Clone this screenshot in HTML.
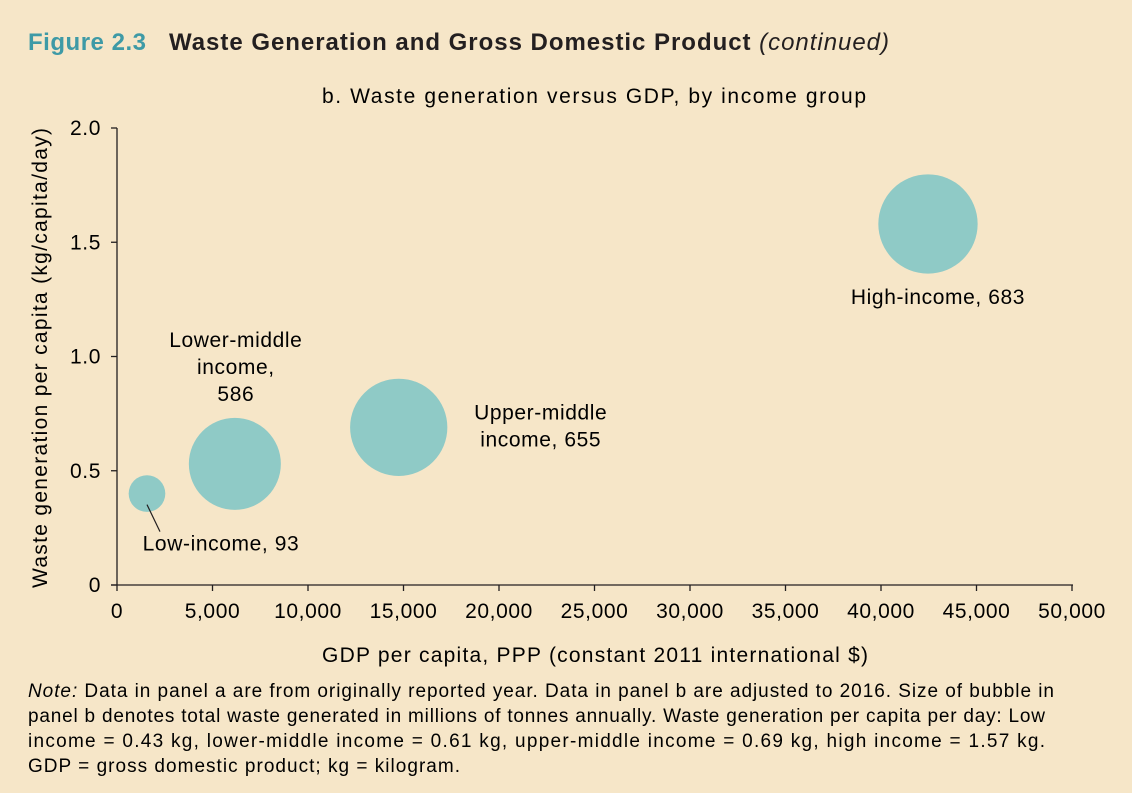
<!DOCTYPE html>
<html><head><meta charset="utf-8"><style>
body{margin:0;width:1132px;height:793px;background:#f6e6c8;overflow:hidden;font-family:"Liberation Sans",sans-serif;color:#231f20}
svg{position:absolute;left:0;top:0}
</style></head><body>
<svg width="1132" height="793" font-family="Liberation Sans, sans-serif">
<text x="28" y="50" font-size="24" font-weight="bold" fill="#3e9aa6" textLength="118" lengthAdjust="spacing">Figure 2.3</text>
<text x="169" y="50" font-size="24" font-weight="bold" fill="#231f20" textLength="720" lengthAdjust="spacing">Waste Generation and Gross Domestic Product <tspan font-weight="normal" font-style="italic">(continued)</tspan></text>
<text x="322" y="103" font-size="21" textLength="544" lengthAdjust="spacing">b. Waste generation versus GDP, by income group</text>
<g id="axes" letter-spacing="0.6"></g>
<g id="bubbles" letter-spacing="0.6"></g>
<text transform="translate(47,588) rotate(-90)" font-size="21" textLength="460" lengthAdjust="spacing">Waste generation per capita (kg/capita/day)</text>
<text x="322" y="662" font-size="21" textLength="546" lengthAdjust="spacing">GDP per capita, PPP (constant 2011 international $)</text>
<g font-size="19">
<text x="28" y="697" textLength="1026" lengthAdjust="spacing"><tspan font-style="italic">Note:</tspan> Data in panel a are from originally reported year. Data in panel b are adjusted to 2016. Size of bubble in</text>
<text x="28" y="722" textLength="1017" lengthAdjust="spacing">panel b denotes total waste generated in millions of tonnes annually. Waste generation per capita per day: Low</text>
<text x="28" y="747" textLength="1017" lengthAdjust="spacing">income = 0.43 kg, lower-middle income = 0.61 kg, upper-middle income = 0.69 kg, high income = 1.57 kg.</text>
<text x="28" y="772" textLength="432" lengthAdjust="spacing">GDP = gross domestic product; kg = kilogram.</text>
</g>
</svg>
<script>
const categories=["Low-income","Lower-middle income","Upper-middle income","High-income"];
const gdpValues=[1570,6170,14750,42460];
const wasteValues=[0.40,0.53,0.69,1.58];
const totalWaste=[93,586,655,683];
const xTicks=[0,5000,10000,15000,20000,25000,30000,35000,40000,45000,50000];
const yTicks=[0,0.5,1.0,1.5,2.0];
const yTickLabels=["0","0.5","1.0","1.5","2.0"];

const NS="http://www.w3.org/2000/svg";
const X=v=>117+v/50000*955;
const Y=v=>585-v/2*457;
const R=v=>1.9*Math.sqrt(v);
function mk(tag,attrs,parent){const e=document.createElementNS(NS,tag);for(const k in attrs)e.setAttribute(k,attrs[k]);parent.appendChild(e);return e;}
const ax=document.getElementById('axes');
let l=mk('line',{x1:117,y1:Y(2),x2:117,y2:585,stroke:'#231f20','stroke-width':1.3},ax);


l=mk('line',{x1:111,y1:585,x2:1073,y2:585,stroke:'#231f20','stroke-width':1.3},ax);


yTicks.forEach((v,i)=>{
 const t=mk('line',{x1:111,y1:Y(v),x2:117,y2:Y(v),stroke:'#231f20','stroke-width':1.3},ax);
 
 
 const tx=mk('text',{x:101,y:Y(v)+7,'font-size':21,'text-anchor':'end'},ax);
 tx.textContent=yTickLabels[i];
 
 
});
xTicks.forEach(v=>{
 const t=mk('line',{x1:X(v),y1:585,x2:X(v),y2:591,stroke:'#231f20','stroke-width':1.3},ax);
 
 
 const tx=mk('text',{x:X(v),y:618,'font-size':21,'text-anchor':'middle'},ax);
 tx.textContent=v.toLocaleString('en-US');
 
 
});
const bg=document.getElementById('bubbles');
const labelLines=[["Low-income, 93"],["Lower-middle","income,","586"],["Upper-middle","income, 655"],["High-income, 683"]];
categories.forEach((c,i)=>{
 const cx=X(gdpValues[i]),cy=Y(wasteValues[i]),r=R(totalWaste[i]);
 const b=mk('circle',{cx:cx,cy:cy,r:r,fill:'#8fcac6'},bg);
 
 
 let lx,ly;
 if(i===0){lx=cx+74;ly=cy+57;
  const ln=mk('line',{x1:cx,y1:cy+11,x2:cx+13,y2:cy+38,stroke:'#231f20','stroke-width':1.2},bg);
  
  }
 else if(i===1){lx=cx+1;ly=cy-117;}
 else if(i===2){lx=cx+142;ly=cy-8;}
 else {lx=cx+10;ly=cy+80;}
 const t=mk('text',{x:lx,y:ly,'font-size':21,'text-anchor':'middle'},bg);
 
 
 labelLines[i].forEach((s,j)=>{const ts=mk('tspan',{x:lx,dy:j?27:0},t);ts.textContent=s;});
});
</script>
</body></html>
